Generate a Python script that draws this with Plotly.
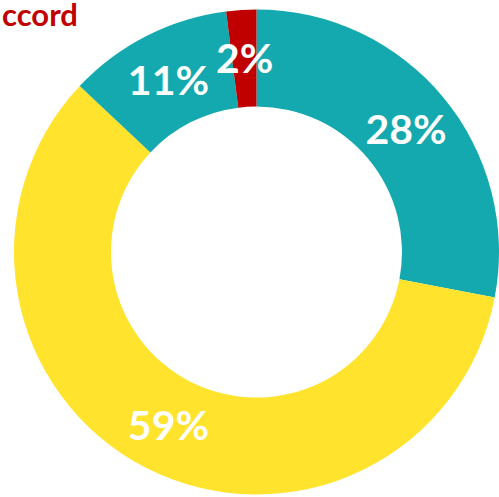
import math
import plotly.graph_objects as go

categories = ["Catégorie 1", "Catégorie 2", "Catégorie 3", "Catégorie 4"]
values = [28, 59, 11, 2]
colors = ["#13A9AE", "#FFE32C", "#13A9AE", "#C00000"]
title_text = "ccord"

W, H = 499, 497
cx, cy, R = 257, 252, 243
HOLE = 0.6
FONT = dict(family="Lato", size=41, color="white", weight="bold")

# Small slices get their label placed by annotation at the ring's mid radius
small = [v / sum(values) < 0.05 for v in values]
textpos = ["none" if s else "inside" for s in small]

fig = go.Figure(go.Pie(
    labels=categories,
    values=values,
    sort=False,
    direction="clockwise",
    rotation=0,
    hole=HOLE,
    marker=dict(colors=colors, line=dict(width=0)),
    texttemplate="%{percent:.0%}",
    textposition=textpos,
    insidetextorientation="horizontal",
    textfont=FONT,
    showlegend=False,
    hoverinfo="label+percent",
    domain=dict(x=[(cx - R) / W, min(1, (cx + R) / W)],
                y=[(H - cy - R) / H, (H - cy + R) / H]),
))

annotations = [dict(
    text=title_text, x=0, y=1, xref="paper", yref="paper",
    xanchor="left", yanchor="top", xshift=0, yshift=7,
    showarrow=False,
    font=dict(family="Lato", size=31, color="#C00000", weight="bold"),
)]

total = sum(values)
cum = 0
rmid = R * (1 + HOLE) / 2
for v, s in zip(values, small):
    mid = (cum + v / 2) / total * 2 * math.pi
    cum += v
    if s:
        px = cx + rmid * math.sin(mid)
        py = cy - rmid * math.cos(mid)
        annotations.append(dict(
            text=f"{round(100 * v / total)}%", x=px / W, y=1 - py / H,
            xref="paper", yref="paper", xanchor="center", yanchor="middle",
            showarrow=False, font=FONT,
        ))

fig.update_layout(
    width=W, height=H,
    margin=dict(l=0, r=0, t=0, b=0),
    paper_bgcolor="white",
    plot_bgcolor="white",
    uniformtext=dict(minsize=41, mode="show"),
    annotations=annotations,
)

fig.write_html("out.html")
